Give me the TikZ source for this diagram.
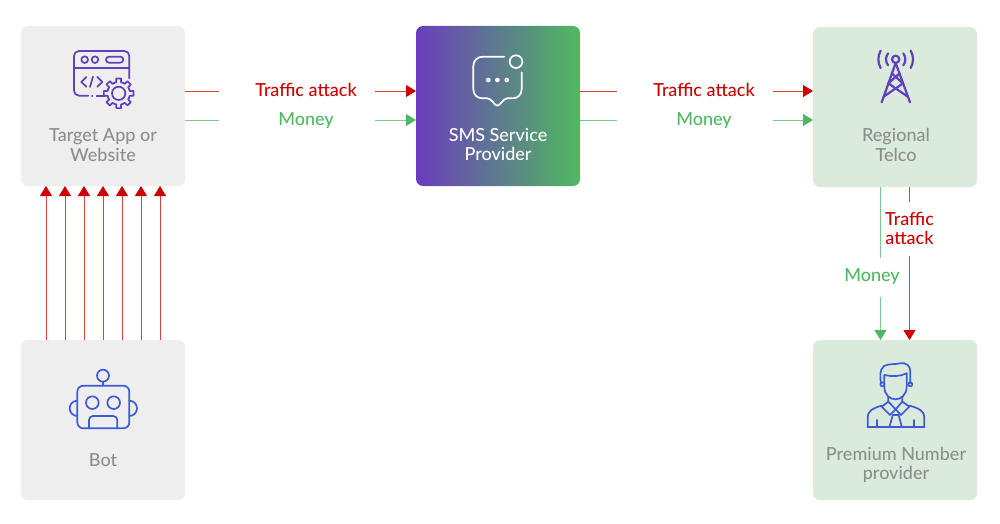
\documentclass[tikz,border=0pt]{standalone}
\usepackage{fontspec}
\setmainfont{Lato Medium}
\usetikzlibrary{arrows.meta,shadings}
\definecolor{boxgray}{HTML}{EEEEEE}
\definecolor{boxgreen}{HTML}{DAEBDC}
\definecolor{txtgray}{HTML}{8E8E8E}
\definecolor{lred}{HTML}{CC0000}
\definecolor{lgreen}{HTML}{4FB75F}
\definecolor{ipurple}{HTML}{6040BF}
\definecolor{iblue}{HTML}{3D5BD9}
\definecolor{gradl}{HTML}{6A3DBD}
\definecolor{gradr}{HTML}{50B95F}
\tikzset{
  card/.style={rounded corners=7pt,minimum width=164pt,minimum height=160pt,inner sep=0pt,outer sep=0pt},
  graycard/.style={card,fill=boxgray},
  greencard/.style={card,fill=boxgreen},
  gradcard/.style={card,left color=gradl,right color=gradr,shading angle=90},
  boxtext/.style={align=center,font=\fontsize{18pt}{20pt}\selectfont,text=txtgray,inner sep=0pt},
  flowlabel/.style={align=center,font=\fontsize{18pt}{19pt}\selectfont,inner sep=0pt,outer sep=0pt},
  hgap/.style={flowlabel,minimum width=156pt,text height=15pt,text depth=4pt},
  redline/.style={draw=lred!75!white,line width=0.8pt},
  greenline/.style={draw=lgreen!75!white,line width=0.8pt},
  redarrow/.style={redline,-{Triangle[length=10pt,width=12pt,color=lred,fill=lred]}},
  greenarrow/.style={greenline,-{Triangle[length=10pt,width=12pt,color=lgreen,fill=lgreen]}},
  icon/.style={line width=1.7pt,line cap=round,line join=round},
}
\begin{document}
\begin{tikzpicture}[x=1pt,y=-1pt]
\useasboundingbox (0,0) rectangle (1000,524);
% cards
\node[graycard]  (target) at (103,106) {};
\node[gradcard]  (sms)    at (498,106) {};
\node[greencard] (telco)  at (895,107) {};
\node[graycard]  (bot)    at (103,420) {};
\node[greencard] (prem)   at (895,420) {};
% card texts
\node[boxtext] (ttarget) at (103,145.5) {Target App or\\Website};
\node[boxtext,text=white,font=\fontsize{18pt}{19pt}\selectfont] (tsms) at (498,144.5) {SMS Service\\Provider};
\node[boxtext] (ttelco) at (896,144.5) {Regional\\Telco};
\node[boxtext] (tbot) at (103,460) {Bot};
\node[boxtext,font=\fontsize{18pt}{19pt}\selectfont] (tprem) at (896,464.5) {Premium Number\\provider};
% horizontal flows
\node[hgap,text=lred]   (tr1) at (297,91)  {\hspace*{18pt}Traffic attack};
\node[hgap,text=lgreen] (mo1) at (297,120) {\hspace*{18pt}Money};
\node[hgap,text=lred]   (tr2) at (695,91)  {\hspace*{18pt}Traffic attack};
\node[hgap,text=lgreen] (mo2) at (695,120) {\hspace*{18pt}Money};
\draw[redline] (target.east|-tr1) -- (tr1.west);
\draw[redarrow] (tr1.east) -- (sms.west|-tr1);
\draw[greenline] (target.east|-mo1) -- (mo1.west);
\draw[greenarrow] (mo1.east) -- (sms.west|-mo1);
\draw[redline] (sms.east|-tr2) -- (tr2.west);
\draw[redarrow] (tr2.east) -- (telco.west|-tr2);
\draw[greenline] (sms.east|-mo2) -- (mo2.west);
\draw[greenarrow] (mo2.east) -- (telco.west|-mo2);
% vertical flows
\node[flowlabel,text=lred,minimum height=54pt] (tr3) at (909.5,228.5) {Traffic\\attack};
\node[flowlabel,text=lgreen,minimum height=39pt] (mo3) at (872,277) {Money};
\draw[redline] (tr3.north|-telco.south) -- (tr3.north);
\draw[redarrow] (tr3.south) -- (tr3.south|-prem.north);
\draw[greenline] ([xshift=8.5pt]mo3.north|-telco.south) -- ([xshift=8.5pt]mo3.north);
\draw[greenarrow] ([xshift=8.5pt]mo3.south) -- ([xshift=8.5pt]mo3.south|-prem.north);
% bot to target arrows
\foreach \dx in {-57,-38,-19,0,19,38,57}{
  \draw[redarrow] ([xshift=\dx pt]bot.north) -- ([xshift=\dx pt]target.south);
}
% app icon
\begin{scope}[shift={(10,15)},scale=0.33333,icon,draw=ipurple]
  \draw[rounded corners=5pt] (358,190) -- (358,108) -- (192,108) -- (192,242) -- (235,242);
  \draw (246,242) -- (247,242);
  \draw (260,242) -- (285,242);
  \draw (192,158) -- (358,158);
  \draw (224,134) circle (10);
  \draw (255,134) circle (10);
  \draw[rounded corners=3pt] (288,125) rectangle (340,143);
  \draw (229,186) -- (214,201) -- (229,215);
  \draw (249,185) -- (240,216);
  \draw (262,186) -- (277,201) -- (262,215);
  \begin{scope}[shift={(326,235)}]
    \draw (0,0) circle (20);
    \foreach \a in {0,45,...,315}{
      \draw ({\a-22.5}:34) -- ({\a-12}:34) -- ({\a-9}:45) -- ({\a+9}:45) -- ({\a+12}:34) -- ({\a+22.5}:34);
    }
  \end{scope}
\end{scope}
% sms icon
\begin{scope}[shift={(400,15)},scale=0.33333,icon,draw=white]
  \draw (313,125) -- (248,125) .. controls (232,125) and (220,137) .. (220,153) -- (220,222)
     .. controls (220,240) and (232,250) .. (248,250) -- (262,250)
     .. controls (275,250) and (283,272) .. (292,272)
     .. controls (301,272) and (309,250) .. (322,250) -- (337,250)
     .. controls (353,250) and (365,240) .. (365,222) -- (365,172);
  \draw (348,140) circle (19);
  \fill[white] (265,195) circle (7) (292,195) circle (7) (320,195) circle (7);
\end{scope}
% tower icon
\begin{scope}[shift={(800,15)},scale=0.33333,icon,draw=ipurple,line width=2.2pt]
  \draw (287,133) circle (11);
  \draw (287,144) -- (245,262);
  \draw (287,144) -- (330,262);
  \draw (275,175) -- (309,205) -- (251,245);
  \draw (299,175) -- (265,205) -- (323,245);
  \foreach \r/\t in {29/38,52/30}{
    \draw (287,133) ++(-\t:\r) arc[start angle=-\t,end angle=\t,radius=\r];
    \draw (287,133) ++(180-\t:\r) arc[start angle=180-\t,end angle=180+\t,radius=\r];
  }
\end{scope}
% bot icon
\begin{scope}[shift={(10,335)},scale=0.33333,icon,draw=iblue]
  \draw[rounded corners=6pt] (202,152) rectangle (358,280);
  \draw (279,122) circle (18);
  \draw (279,140) -- (279,152);
  \draw (247,203) circle (19);
  \draw (311,203) circle (19);
  \draw[rounded corners=4pt] (237,280) -- (237,243) -- (322,243) -- (322,280);
  \draw (202,197) arc[start angle=-90,end angle=-270,radius=23];
  \draw (358,197) arc[start angle=-90,end angle=90,radius=23];
\end{scope}
% person icon
\begin{scope}[shift={(800,340)},scale=0.33333,icon,draw=iblue]
  \draw (243,130) .. controls (240,110) and (238,90) .. (252,78) .. controls (268,70) and (285,74) .. (300,70) .. controls (318,66) and (332,78) .. (331,95) -- (331,130);
  \draw (253,105) .. controls (275,110) and (300,110) .. (320,100);
  \draw (253,105) -- (253,140) .. controls (253,165) and (270,178) .. (286,178) .. controls (302,178) and (320,165) .. (320,140) -- (320,100);
  \draw (247,133) circle (6);
  \draw (331,133) circle (6);
  \draw (265,170) -- (265,185) -- (287,208) -- (307,185) -- (307,170);
  \draw (265,185) -- (245,200) -- (270,225) -- (287,208) -- (303,225) -- (328,200) -- (307,185);
  \draw (203,262) -- (203,232) .. controls (203,215) and (215,205) .. (245,197);
  \draw (373,262) -- (373,232) .. controls (373,215) and (360,205) .. (328,197);
  \draw (203,262) -- (373,262);
  \draw (230,240) -- (230,262);
  \draw (343,240) -- (343,262);
  \draw (278,226) -- (268,262);
  \draw (296,226) -- (306,262);
  \draw (278,226) -- (296,226);
\end{scope}
\end{tikzpicture}
\end{document}
